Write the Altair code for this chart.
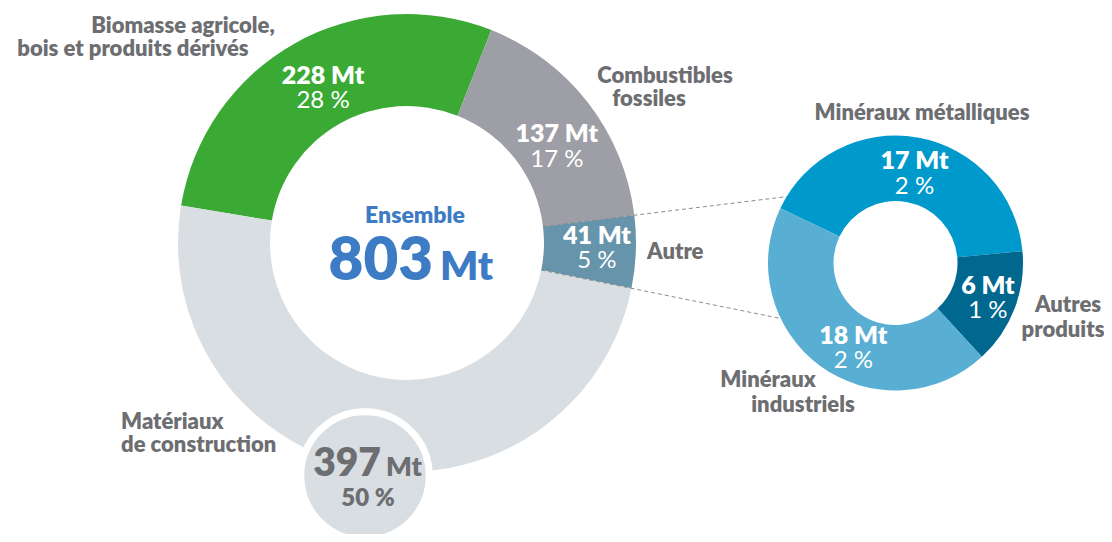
import math
import altair as alt
import pandas as pd

# ---------------- data ----------------
big_categories = ["Biomasse agricole, bois et produits dérivés", "Combustibles fossiles",
                  "Autre", "Matériaux de construction"]
big_values = [228, 137, 41, 397]
big_percents = [28, 17, 5, 50]

small_categories = ["Minéraux métalliques", "Autres produits", "Minéraux industriels"]
small_values = [17, 6, 18]
small_percents = [2, 1, 2]

total_title = "Ensemble"
unit = "Mt"

# ---------------- styles / layout ----------------
OFF = 8  # page margin
big_colors = ["#3aaa35", "#9e9ea6", "#6594ab", "#d9dee2"]
small_colors = ["#0099cb", "#00678f", "#58aed3"]
LABEL_GRAY = "#6d6e71"
BLUE = "#3d7cc4"
FONT = "Lato"
CAT_SIZE = 22
CAT_WEIGHT = 800

BIG = dict(cx=407, cy=243, r_out=229, r_in=137, start=-80.6)
SMALL = dict(cx=895.5, cy=263, r_out=127.5, r_in=62, start=-64.6)
# label placement: (angle nudge in degrees, radius in px)
big_label_place = [(1, 176), (5, 178), (-0.6, 190)]
small_label_place = [(2, 91), (0, 99), (-10, 95)]


def slice_angles(values, start_deg):
    total = sum(values)
    a = math.radians(start_deg)
    out = []
    for v in values:
        span = 2 * math.pi * v / total
        out.append((a, a + span))
        a += span
    return out


def polar(c, ang, r):
    return c["cx"] + r * math.sin(ang), c["cy"] - r * math.cos(ang)


big_ang = slice_angles(big_values, BIG["start"])
small_ang = slice_angles(small_values, SMALL["start"])

big_df = pd.DataFrame({
    "cat": big_categories, "value": big_values,
    "t0": [a for a, _ in big_ang], "t1": [b for _, b in big_ang], "col": big_colors,
})
small_df = pd.DataFrame({
    "cat": small_categories, "value": small_values,
    "t0": [a for a, _ in small_ang], "t1": [b for _, b in small_ang], "col": small_colors,
})


def arc_layer(df, c):
    return alt.Chart(df).mark_arc(innerRadius=c["r_in"], outerRadius=c["r_out"]).encode(
        theta=alt.Theta("t0:Q", scale=None),
        theta2="t1:Q",
        color=alt.Color("col:N", scale=None),
        x=alt.value(c["cx"] - OFF),
        y=alt.value(c["cy"] - OFF),
    )


big_arc = arc_layer(big_df, BIG)
small_arc = arc_layer(small_df, SMALL)

# --------- dashed connectors (radial lines of the "Autre" slice) ---------
rows = []
for ang in (big_ang[1][1], big_ang[2][1]):
    d = (math.sin(ang), -math.cos(ang))
    x0, y0 = polar(BIG, ang, BIG["r_in"])
    w = (BIG["cx"] - SMALL["cx"], BIG["cy"] - SMALL["cy"])
    wd = w[0] * d[0] + w[1] * d[1]
    ww = w[0] ** 2 + w[1] ** 2
    t = -wd - math.sqrt(wd * wd - ww + SMALL["r_out"] ** 2)
    x1, y1 = BIG["cx"] + t * d[0], BIG["cy"] + t * d[1]
    rows.append({"x": x0 - OFF, "y": y0 - OFF, "x2": x1 - OFF, "y2": y1 - OFF})
lines_df = pd.DataFrame(rows)
connectors = alt.Chart(lines_df).mark_rule(
    strokeDash=[4, 3], color="#8c8c8c", strokeWidth=1
).encode(
    x=alt.X("x:Q", scale=None), y=alt.Y("y:Q", scale=None),
    x2="x2:Q", y2="y2:Q",
)

# --------- value labels in slices ---------
def value_labels(values, pcts, angs, places, c):
    rows = []
    for v, p, (a0, a1), (nudge, r) in zip(values, pcts, angs, places):
        mid = (a0 + a1) / 2 + math.radians(nudge)
        x, y = polar(c, mid, r)
        rows.append({"x": x - OFF, "y": y - OFF, "l1": f"{v} {unit}", "l2": f"{p} %"})
    return pd.DataFrame(rows)


vl_df = pd.concat([
    value_labels(big_values[:3], big_percents[:3], big_ang[:3], big_label_place, BIG),
    value_labels(small_values, small_percents, small_ang, small_label_place, SMALL),
])
vl_top = alt.Chart(vl_df).mark_text(
    font=FONT, fontSize=25, fontWeight=800, color="white", dy=-12.5, baseline="middle"
).encode(x=alt.X("x:Q", scale=None), y=alt.Y("y:Q", scale=None), text="l1:N")
vl_bot = alt.Chart(vl_df).mark_text(
    font=FONT, fontSize=24, color="white", dy=13, baseline="middle"
).encode(x=alt.X("x:Q", scale=None), y=alt.Y("y:Q", scale=None), text="l2:N")

# --------- Matériaux de construction bubble ---------
BUB = dict(cx=365, cy=476, r=69, ring=7)
bubble = alt.Chart(pd.DataFrame({"k": [0]})).mark_circle(
    color=big_colors[3], opacity=1, stroke="white", strokeWidth=BUB["ring"],
    size=math.pi * (BUB["r"] + BUB["ring"] / 2) ** 2,
).encode(x=alt.value(BUB["cx"] - OFF), y=alt.value(BUB["cy"] - OFF))

bub_num = alt.Chart(pd.DataFrame({"t": [str(big_values[3])]})).mark_text(
    font=FONT, fontSize=39, fontWeight=800, color=LABEL_GRAY, align="right", baseline="alphabetic"
).encode(x=alt.value(381 - OFF), y=alt.value(476 - OFF), text="t:N")
bub_unit = alt.Chart(pd.DataFrame({"t": [unit]})).mark_text(
    font=FONT, fontSize=27, fontWeight=800, color=LABEL_GRAY, align="left", baseline="alphabetic"
).encode(x=alt.value(386 - OFF), y=alt.value(476 - OFF), text="t:N")
bub_pct = alt.Chart(pd.DataFrame({"t": [f"{big_percents[3]} %"]})).mark_text(
    font=FONT, fontSize=24, fontWeight=800, color=LABEL_GRAY, align="center", baseline="middle"
).encode(x=alt.value(368 - OFF), y=alt.value(499 - OFF), text="t:N")

# --------- centre total ---------
ens = alt.Chart(pd.DataFrame({"t": [total_title]})).mark_text(
    font=FONT, fontSize=23, fontWeight=800, color=BLUE, align="center", baseline="middle"
).encode(x=alt.value(415 - OFF), y=alt.value(216 - OFF), text="t:N")
tot_num = alt.Chart(pd.DataFrame({"t": [str(sum(big_values))]})).mark_text(
    font=FONT, fontSize=60, fontWeight=800, color=BLUE, align="right", baseline="alphabetic"
).encode(x=alt.value(433 - OFF), y=alt.value(280 - OFF), text="t:N")
tot_unit = alt.Chart(pd.DataFrame({"t": [unit]})).mark_text(
    font=FONT, fontSize=40, fontWeight=800, color=BLUE, align="left", baseline="alphabetic"
).encode(x=alt.value(440 - OFF), y=alt.value(280 - OFF), text="t:N")

# --------- category labels ---------
cat_center = pd.DataFrame({
    "t": ["Biomasse agricole,", "bois et produits dérivés", "Combustibles", "fossiles",
          "Minéraux métalliques", "Autres", "produits", "Minéraux", "industriels"],
    "x": [183, 133, 665, 649, 922, 1068, 1063, 768, 803],
    "y": [26, 49, 76, 99, 113, 305, 330, 380, 405],
})
cat_center["x"] -= OFF
cat_center["y"] -= OFF
cat_left = pd.DataFrame({
    "t": ["Autre", "Matériaux", "de construction"],
    "x": [647, 121, 121],
    "y": [252, 422, 445],
})
cat_left["x"] -= OFF
cat_left["y"] -= OFF

lab_c = alt.Chart(cat_center).mark_text(
    font=FONT, fontSize=CAT_SIZE, fontWeight=CAT_WEIGHT, color=LABEL_GRAY, align="center", baseline="middle"
).encode(x=alt.X("x:Q", scale=None), y=alt.Y("y:Q", scale=None), text="t:N")
lab_l = alt.Chart(cat_left).mark_text(
    font=FONT, fontSize=CAT_SIZE, fontWeight=CAT_WEIGHT, color=LABEL_GRAY, align="left", baseline="middle"
).encode(x=alt.X("x:Q", scale=None), y=alt.Y("y:Q", scale=None), text="t:N")

chart = alt.layer(
    big_arc, bubble, connectors, small_arc, vl_top, vl_bot,
    bub_num, bub_unit, bub_pct, ens, tot_num, tot_unit, lab_c, lab_l,
).properties(
    width=1096, height=526, padding=0,
    autosize=alt.AutoSizeParams(type="none"),
    background="white",
).configure_view(stroke=None)

chart.save("out.html", embed_options={"renderer": "svg", "actions": False})
